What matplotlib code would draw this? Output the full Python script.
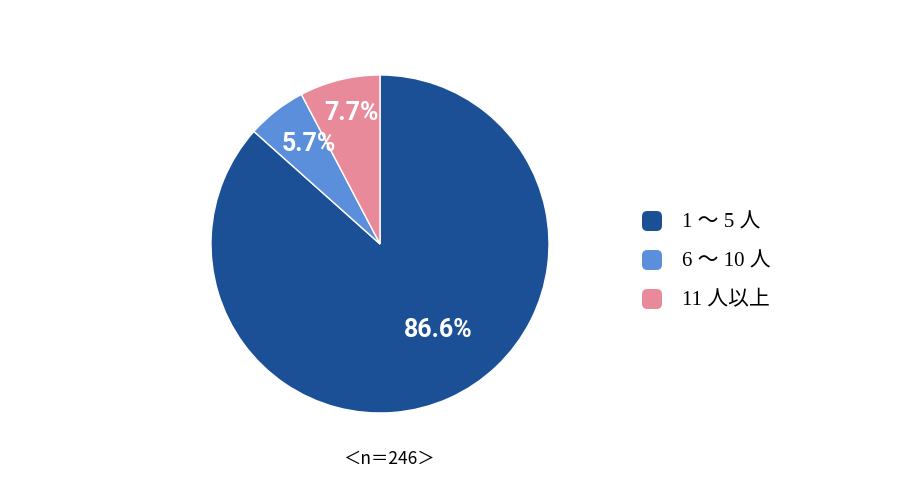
import matplotlib.pyplot as plt
from matplotlib.patches import FancyBboxPatch

labels = ['1 ～ 5 人', '6 ～ 10 人', '11 人以上']
values = [86.6, 5.7, 7.7]
colors = ['#1c5096', '#5b8edb', '#e98a9b']
n_text = '＜n＝246＞'

# where the percentage labels go (in pie radius units)
label_pos = [(0.345, -0.51), (-0.42, 0.59), (-0.17, 0.775)]

fig = plt.figure(figsize=(9, 5.03), dpi=100)

# pie axes: center (380,244) px, radius 169 px
cx, cy, r = 380, 244, 169
ax = fig.add_axes([(cx - r) / 900, (503 - cy - r) / 503, 2 * r / 900, 2 * r / 503])
ax.pie(values, colors=colors, startangle=90, counterclock=False,
       wedgeprops=dict(edgecolor='white', linewidth=1.0))
ax.set_xlim(-1, 1)
ax.set_ylim(-1, 1)
ax.set_aspect('equal')
ax.axis('off')

for v, (x, y) in zip(values, label_pos):
    ax.text(x, y, f'{v:.1f}%', ha='center', va='center', color='white',
            fontsize=18, fontweight='bold', family=['Roboto', 'DejaVu Sans'])

# legend, drawn by hand to get rounded swatches
row_y = [221, 260, 299]
for lab, col, yy in zip(labels, colors, row_y):
    fy = (503 - yy) / 503
    box = FancyBboxPatch((642 / 900, fy - 10 / 503), 20 / 900, 20 / 503,
                         boxstyle='round,pad=0,rounding_size=0.006',
                         transform=fig.transFigure, facecolor=col, edgecolor='none',
                         mutation_aspect=900 / 503)
    fig.patches.append(box)
    fig.text(682 / 900, fy - 2 / 503, lab, ha='left', va='center', fontsize=15,
             family=['Liberation Serif', 'Noto Sans CJK JP'])

fig.text(389 / 900, (503 - 459) / 503, n_text, ha='center', va='center', fontsize=12.5,
         family=['Noto Sans CJK JP', 'DejaVu Sans'])

fig.savefig('out.png', dpi=100, facecolor='white')
